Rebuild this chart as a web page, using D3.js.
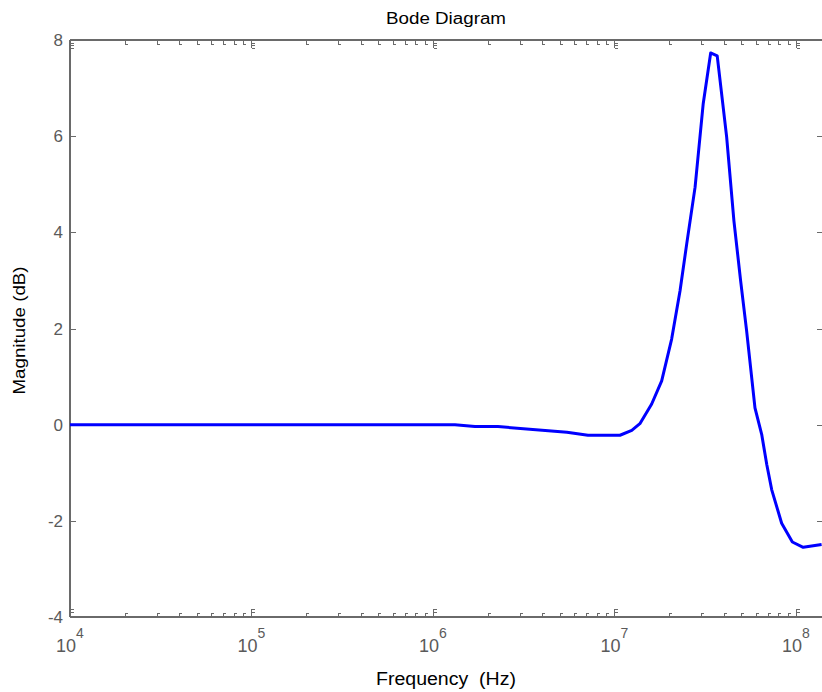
<!DOCTYPE html>
<html>
<head>
<meta charset="utf-8">
<script src="https://cdn.jsdelivr.net/npm/d3@7"></script>
<style>
  html, body { margin: 0; padding: 0; background: #fff; }
  svg { display: block; font-family: "Liberation Sans", Arial, sans-serif; }
</style>
</head>
<body>
<svg id="chart" width="822" height="692"></svg>
<script>
// ---- data ----
const freqHz = [1e4, 1.321e6, 1.702e6, 2.28e6, 5.47e6, 7.14e6, 1.072e7, 1.245e7, 1.38e7, 1.603e7,
  1.82e7, 2.065e7, 2.296e7, 2.5e7, 2.78e7, 3.083e7, 3.388e7, 3.681e7, 4.15e7, 4.55e7,
  4.955e7, 5.346e7, 5.943e7, 6.471e7, 6.902e7, 7.345e7, 8.337e7, 9.55e7, 1.096e8, 1.384e8];
const magDb = [0, 0, -0.04, -0.04, -0.16, -0.22, -0.22, -0.12, 0.02, 0.43,
  0.91, 1.78, 2.78, 3.76, 4.94, 6.68, 7.73, 7.67, 5.98, 4.24,
  2.99, 1.95, 0.35, -0.20, -0.83, -1.35, -2.05, -2.44, -2.55, -2.49];
const yTicks = [8, 6, 4, 2, 0, -2, -4];
const xDecades = [4, 5, 6, 7, 8];
const xDomain = [1e4, 1.391e8];
const yDomain = [-4, 8];
const titleText = "Bode Diagram";
const xLabelText = "Frequency  (Hz)";
const yLabelText = "Magnitude (dB)";

// ---- layout ----
const L = 70, R = 822, T = 40, B = 617;
const svg = d3.select("#chart");
const x = d3.scaleLog().domain(xDomain).range([L, R]);
const y = d3.scaleLinear().domain(yDomain).range([B, T]);
const axisColor = "#6a6a6a";
const labelColor = "#5a5a5a";

// axes frame lines (left, top, bottom)
const g = svg.append("g").attr("stroke", axisColor).attr("stroke-width", 1.2).attr("fill", "none").attr("shape-rendering", "crispEdges");
g.append("line").attr("x1", L).attr("x2", R).attr("y1", T).attr("y2", T);
g.append("line").attr("x1", L).attr("x2", R).attr("y1", B).attr("y2", B);
g.append("line").attr("x1", L).attr("x2", L).attr("y1", T).attr("y2", B);

// minor and major x ticks (MATLAB-style hooks)
const tickG = svg.append("g").attr("stroke", axisColor).attr("stroke-width", 1).attr("fill", "none").attr("shape-rendering", "crispEdges");
const minorVals = [];
xDecades.forEach(d => { for (let k = 2; k <= 9; k++) { const v = k * Math.pow(10, d); if (v <= xDomain[1]) minorVals.push(v); } });
minorVals.forEach(v => {
  const px = Math.round(x(v)) + 0.5;
  tickG.append("path").attr("d", `M${px},${T} V${T + 4} H${px + 2.5}`);
  tickG.append("path").attr("d", `M${px},${B} V${B - 4} H${px + 2.5}`);
});
xDecades.forEach(d => {
  const px = Math.round(x(Math.pow(10, d))) + 0.5;
  tickG.append("path").attr("d", `M${px},${T} V${T + 8} M${px},${T + 3} H${px + 3} M${px},${T + 5.5} H${px + 3} M${px},${T + 8} H${px + 3}`);
  tickG.append("path").attr("d", `M${px},${B} V${B - 8} M${px},${B - 8} H${px + 3} M${px},${B - 4.5} H${px + 3}`);
});

// y ticks left and right
yTicks.forEach(v => {
  const py = Math.round(y(v)) + 0.5;
  tickG.append("line").attr("x1", L).attr("x2", L + 6).attr("y1", py).attr("y2", py);
  tickG.append("line").attr("x1", R - 5).attr("x2", R).attr("y1", py).attr("y2", py);
});

// y tick labels
svg.append("g").selectAll("text").data(yTicks).join("text")
  .attr("x", L - 7).attr("y", d => y(d)).attr("dy", "0.36em")
  .attr("text-anchor", "end").attr("font-size", 17).attr("fill", labelColor)
  .text(d => d);

// x tick labels 10^n
const xl = svg.append("g").attr("fill", labelColor);
xDecades.forEach(d => {
  const t = xl.append("text").attr("x", x(Math.pow(10, d))).attr("y", 652)
    .attr("text-anchor", "middle").attr("font-size", 18);
  t.append("tspan").text("10");
  t.append("tspan").attr("dy", -14).attr("font-size", 14).text(d);
});

// curve
const line = d3.line().x((d, i) => x(freqHz[i])).y(d => y(d));
svg.append("path").datum(magDb)
  .attr("d", line)
  .attr("fill", "none").attr("stroke", "#0000ff").attr("stroke-width", 3)
  .attr("stroke-linejoin", "round");

// title and labels
svg.append("text").attr("x", (L + R) / 2).attr("y", 24).attr("text-anchor", "middle")
  .attr("font-size", 16).attr("fill", "#000")
  .attr("textLength", 120).attr("lengthAdjust", "spacingAndGlyphs").text(titleText);
svg.append("text").attr("x", (L + R) / 2).attr("y", 685).attr("text-anchor", "middle")
  .attr("font-size", 18).attr("fill", "#000").attr("xml:space", "preserve")
  .style("white-space", "pre")
  .attr("textLength", 140).attr("lengthAdjust", "spacingAndGlyphs").text(xLabelText);
svg.append("text").attr("transform", `translate(25,${(T + B) / 2 + 2}) rotate(-90)`)
  .attr("text-anchor", "middle").attr("font-size", 17).attr("fill", "#000")
  .attr("textLength", 128).attr("lengthAdjust", "spacingAndGlyphs").text(yLabelText);
</script>
</body>
</html>
